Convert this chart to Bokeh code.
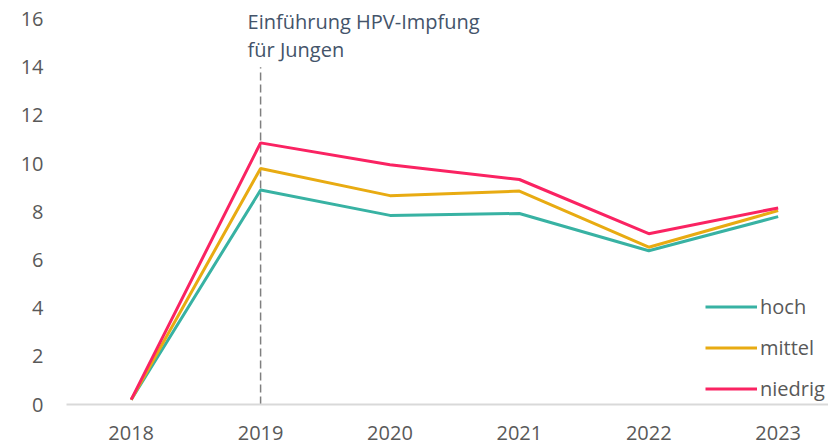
from bokeh.plotting import figure
from bokeh.models import Range1d, FixedTicker, Legend, LegendItem, Label
from bokeh.embed import file_html
from bokeh.resources import INLINE

# ---- data ----
years = [2018, 2019, 2020, 2021, 2022, 2023]
hoch = [0.2, 8.9, 7.85, 7.93, 6.38, 7.8]
mittel = [0.2, 9.8, 8.67, 8.86, 6.53, 8.05]
niedrig = [0.2, 10.86, 9.95, 9.34, 7.09, 8.16]
y_ticks = [0, 2, 4, 6, 8, 10, 12, 14, 16]
event_year = 2019
event_line_top = 14
annotation_lines = ["Einführung HPV-Impfung", "für Jungen"]
series_names = ["hoch", "mittel", "niedrig"]
colors = ["#38b2a3", "#e8ab12", "#fa2362"]

FONT = "Open Sans"

p = figure(width=828, height=446, output_backend="svg", toolbar_location=None,
           x_range=Range1d(2017.5, 2023.389), y_range=Range1d(0, 16.77),
           min_border_left=66, min_border_right=0, min_border_top=0, min_border_bottom=42)
p.outline_line_color = None
p.grid.grid_line_color = None
p.background_fill_color = "white"

# axes
p.xaxis.ticker = FixedTicker(ticks=years)
p.yaxis.ticker = FixedTicker(ticks=y_ticks)
for ax in (p.xaxis, p.yaxis):
    ax.major_tick_line_color = None
    ax.minor_tick_line_color = None
    ax.major_label_text_font = FONT
    ax.major_label_text_font_size = "20px"
    ax.major_label_text_color = "#595959"
p.yaxis.axis_line_color = None
p.yaxis.major_label_standoff = 17
p.xaxis.axis_line_color = "#d9d9d9"
p.xaxis.axis_line_width = 2
p.xaxis.major_label_standoff = 15

# event line
p.segment(x0=[event_year], y0=[0], x1=[event_year], y1=[event_line_top],
          line_color="#7f7f7f", line_width=1.5, line_dash="8 4")

renderers = []
for name, vals, c in zip(series_names, [hoch, mittel, niedrig], colors):
    r = p.line(years, vals, line_color=c, line_width=3)
    renderers.append((name, r))

legend = Legend(items=[LegendItem(label=n, renderers=[r]) for n, r in renderers],
                location=(639, 2), orientation="vertical",
                glyph_width=52, glyph_height=27, label_height=27, spacing=14,
                label_standoff=3, padding=0, margin=0,
                border_line_color=None, background_fill_alpha=0,
                label_text_font=FONT, label_text_font_size="20px",
                label_text_color="#595959")
p.add_layout(legend)

for i, t in enumerate(annotation_lines):
    p.add_layout(Label(x=event_year, y=383 - 28 * i, y_units="screen", x_offset=-13,
                       text=t, text_font=FONT, text_font_size="20px",
                       text_color="#44546a", text_baseline="alphabetic"))

open("out.html", "w").write(file_html(p, INLINE))
